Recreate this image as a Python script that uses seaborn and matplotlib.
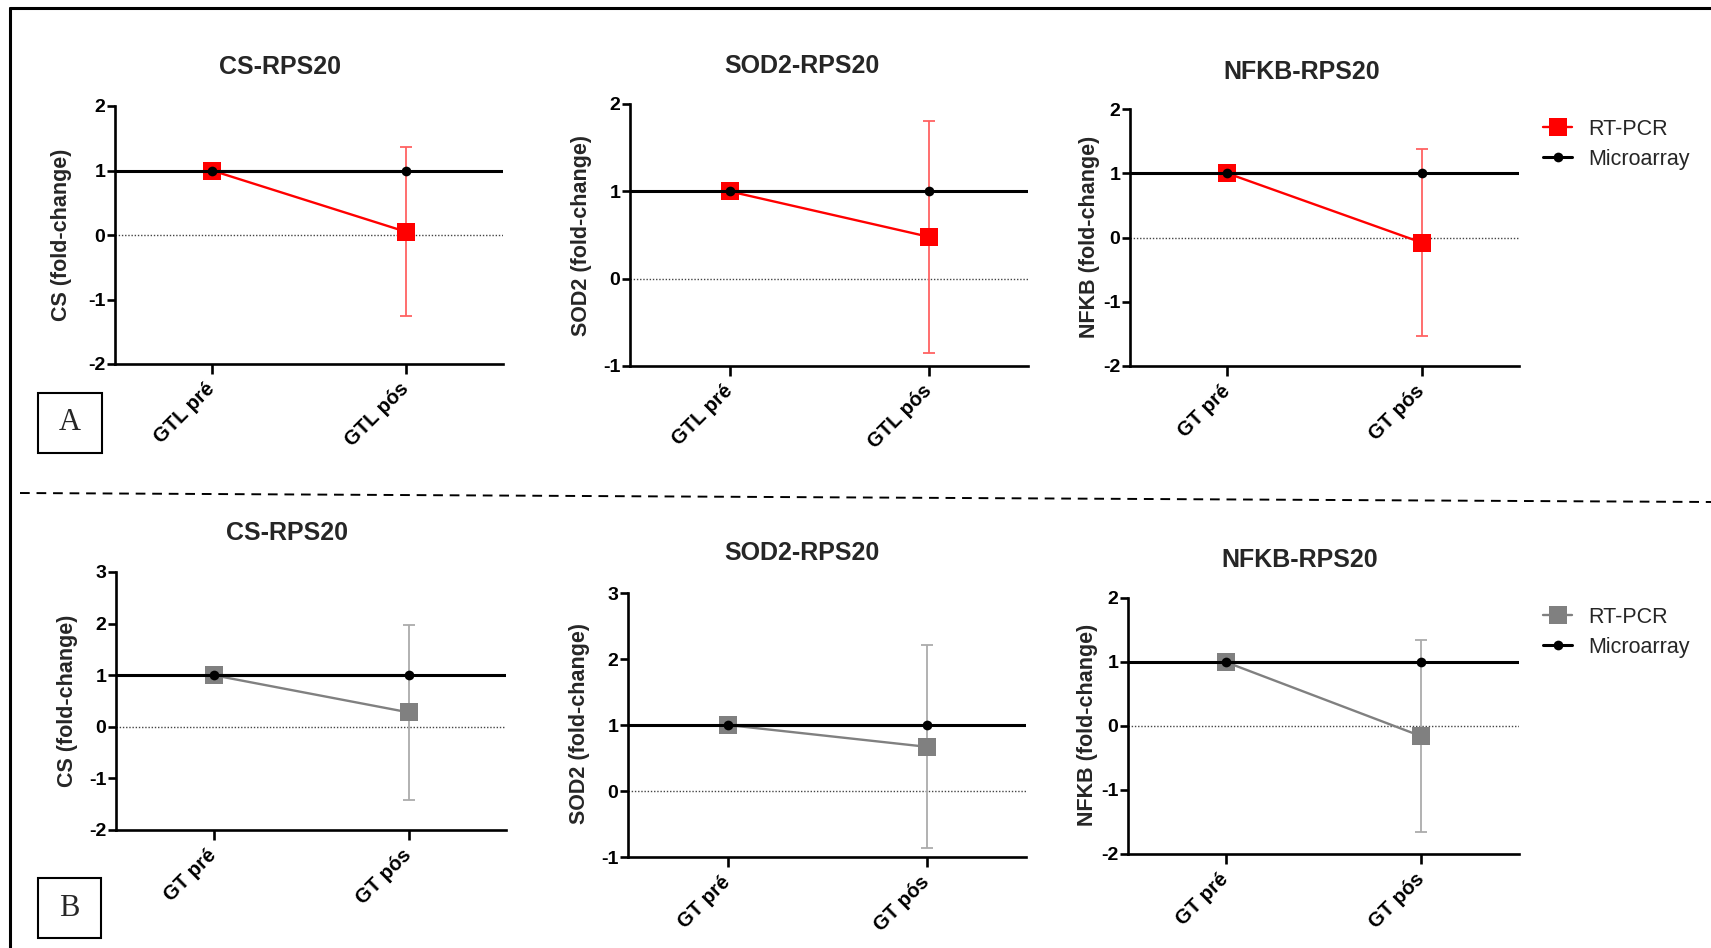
import matplotlib
matplotlib.use("Agg")
import matplotlib.pyplot as plt
from matplotlib.lines import Line2D
from matplotlib.patches import Rectangle
import numpy as np
import pandas as pd
import seaborn as sns

sns.set_style("ticks")
plt.rcParams["font.family"] = ["Liberation Sans", "DejaVu Sans"]
plt.rcParams["axes.unicode_minus"] = False

# ---------------- data ----------------
titles = ["CS-RPS20", "SOD2-RPS20", "NFKB-RPS20"]
ylabels = ["CS (fold-change)", "SOD2 (fold-change)", "NFKB (fold-change)"]

groups_A = [["GTL pré", "GTL pós"], ["GTL pré", "GTL pós"], ["GT pré", "GT pós"]]
groups_B = [["GT pré", "GT pós"], ["GT pré", "GT pós"], ["GT pré", "GT pós"]]

# RT-PCR fold-change (mean) and standard deviation
rtpcr_A = [[1.0, 0.05], [1.0, 0.48], [1.0, -0.08]]
sd_A = [[0.0, 1.31], [0.0, 1.33], [0.0, 1.45]]
rtpcr_B = [[1.0, 0.28], [1.0, 0.67], [1.0, -0.16]]
sd_B = [[0.0, 1.70], [0.0, 1.54], [0.0, 1.50]]

# microarray fold-change
microarray = [1.0, 1.0]

ylims_A = [(-2, 2), (-1, 2), (-2, 2)]
ylims_B = [(-2, 3), (-1, 3), (-2, 2)]

series_labels = ["RT-PCR", "Microarray"]

# ---------------- layout (pixels) ----------------
W, H = 1711, 948
fig = plt.figure(figsize=(W / 100, H / 100), dpi=100)


def fx(x):
    return x / W


def fy(y):
    return 1 - y / H


axes_A = [(115, 106, 503, 364), (630, 104, 1028, 366), (1130, 109, 1519, 366)]
axes_B = [(116, 572, 506, 830), (628, 593, 1026, 857), (1128, 598, 1519, 854)]
title_A = [(280, 67), (802, 66), (1302, 72)]
title_B = [(287, 533), (802, 553), (1300, 560)]
ylab_A = [(61, 235), (582, 235), (1089, 237)]
ylab_B = [(68, 701), (579, 724), (1088, 725)]

RED, RED_ERR = "#FF0000", "#FF6262"
GREY, GREY_ERR = "#808080", "#ABABAB"


def draw_panel(box, cats, rt, sd, ylim, color, ecolor, title, tpos, ylabel, ypos):
    l, t, r, b = box
    ax = fig.add_axes([fx(l), fy(b), fx(r) - fx(l), fy(t) - fy(b)])
    df = pd.DataFrame({"grupo": cats, "RT-PCR": rt, "Microarray": microarray})

    ax.axhline(0, color="#444444", lw=1.0, ls=(0, (1, 1.3)), zorder=1)
    sns.lineplot(data=df, x="grupo", y="RT-PCR", color=color, marker="s",
                 markersize=13, markeredgewidth=0, lw=1.7, sort=False,
                 ax=ax, zorder=3)
    sel = [i for i, s in enumerate(sd) if s > 0]
    ax.errorbar([cats[i] for i in sel], [rt[i] for i in sel],
                yerr=[sd[i] for i in sel], fmt="none", ecolor=ecolor,
                elinewidth=1.3, capsize=4, capthick=1.3, zorder=2)
    ax.axhline(microarray[0], color="black", lw=2.2, zorder=4)
    sns.lineplot(data=df, x="grupo", y="Microarray", color="black", marker="o",
                 markersize=7, markeredgewidth=0, lw=2.2, sort=False, ax=ax,
                 zorder=5)

    ax.set_xlim(-0.5, 1.5)
    ax.set_ylim(*ylim)
    ax.set_yticks(np.arange(ylim[0], ylim[1] + 1))
    ax.set_xlabel("")
    ax.set_ylabel("")
    for s in ["top", "right"]:
        ax.spines[s].set_visible(False)
    for s in ["left", "bottom"]:
        ax.spines[s].set_linewidth(1.9)
        ax.spines[s].set_color("black")
    ax.tick_params(axis="y", direction="out", length=6, width=1.9, pad=1,
                   labelsize=14, colors="black")
    ax.tick_params(axis="x", direction="out", length=7, width=1.9, pad=9,
                   labelsize=14.5, colors="black")
    for lab in ax.get_yticklabels():
        lab.set_fontweight("bold")
    for lab in ax.get_xticklabels():
        lab.set_fontweight("bold")
        lab.set_rotation(45)
        lab.set_ha("right")
        lab.set_va("center")
        lab.set_rotation_mode("anchor")

    fig.text(fx(tpos[0]), fy(tpos[1]), title, ha="center", va="center",
             fontsize=18, fontweight="bold")
    fig.text(fx(ypos[0]), fy(ypos[1]), ylabel, ha="center", va="center",
             rotation=90, fontsize=15.5, fontweight="bold")
    return ax


for i in range(3):
    draw_panel(axes_A[i], groups_A[i], rtpcr_A[i], sd_A[i], ylims_A[i], RED,
               RED_ERR, titles[i], title_A[i], ylabels[i], ylab_A[i])
    draw_panel(axes_B[i], groups_B[i], rtpcr_B[i], sd_B[i], ylims_B[i], GREY,
               GREY_ERR, titles[i], title_B[i], ylabels[i], ylab_B[i])


def legend_at(color, x, y):
    handles = [
        Line2D([], [], color=color, marker="s", markersize=13,
               markeredgewidth=0, lw=1.7),
        Line2D([], [], color="black", marker="o", markersize=7,
               markeredgewidth=0, lw=2.2),
    ]
    leg = fig.legend(handles, series_labels, loc="upper left",
                     bbox_to_anchor=(fx(x), fy(y)), frameon=False, fontsize=15.5,
                     handlelength=1.35, handletextpad=0.75, labelspacing=0.4,
                     borderpad=0, borderaxespad=0)
    return leg


legend_at(RED, 1543, 119)
legend_at(GREY, 1543, 607)

# outer frame (top and left edges)
fig.add_artist(Line2D([fx(10), fx(10)], [0, fy(8)], transform=fig.transFigure,
                      color="black", lw=2.2))
fig.add_artist(Line2D([fx(10), 1], [fy(8), fy(8)], transform=fig.transFigure,
                      color="black", lw=2.2))
# separator between the two rows
fig.add_artist(Line2D([fx(20), 1], [fy(493), fy(502)], transform=fig.transFigure,
                      color="black", lw=1.4, ls=(0, (5, 3.5))))

# panel letters
for letter, (x0, y0, x1, y1) in [("A", (38, 393, 102, 453)), ("B", (38, 878, 101, 938))]:
    fig.add_artist(Rectangle((fx(x0), fy(y1)), fx(x1) - fx(x0), fy(y0) - fy(y1),
                             transform=fig.transFigure, fill=False,
                             edgecolor="black", lw=1.5))
    fig.text(fx((x0 + x1) / 2), fy((y0 + y1) / 2), letter, ha="center",
             va="center", fontsize=22, family="Liberation Serif")

fig.savefig("out.png", dpi=100)
